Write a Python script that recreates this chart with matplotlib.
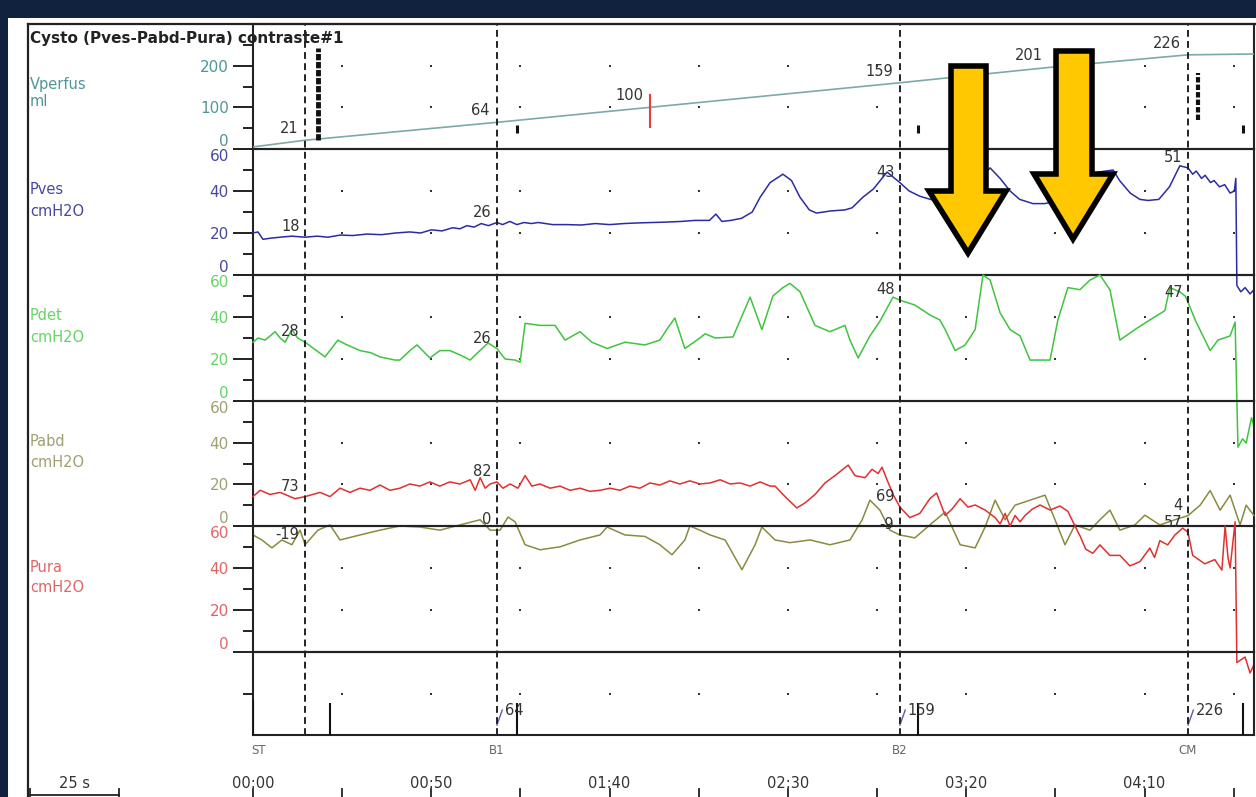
import numpy as np
import matplotlib
matplotlib.use('Agg')
import matplotlib.pyplot as plt
from matplotlib.patches import Rectangle, Polygon
from matplotlib.lines import Line2D
from matplotlib.transforms import blended_transform_factory
from matplotlib.ticker import FixedLocator

# ---------------- data ----------------
T_MAX = 280.7
cursor_t = [14.6, 68.4, 181.4, 262.2]
cursor_names = ['ST', 'B1', 'B2', 'CM']
name_t = [1.5, 68.4, 181.4, 262.2]

vol_t = [0, 14.6, 68.4, 111.3, 181.4, 223.5, 262.2, 280.7]
vol_v = [5, 21, 64, 100, 159, 196, 226, 228]
vol_label_t = [14.6, 68.4, 111.3, 181.4, 223.5, 262.2]
vol_labels = ['21', '64', '100', '159', '201', '226']

pves_pts = [(0, 20), (1.4, 20.5), (2.8, 17), (4.8, 17.5), (7.6, 18), (10.9, 18.5), (14.6, 18), (18, 18.5),
            (21, 18), (24.4, 19), (28, 18.8), (32, 19.5), (36, 19.2), (40, 20), (44, 20.5), (47, 20),
            (50, 21.5), (53, 21), (56, 22.5), (58, 22), (60, 23.5), (62, 22.8), (64, 24.5), (66, 23.5),
            (68.4, 25), (70, 24), (72, 25.5), (74, 24), (76, 25), (78, 24.5), (80, 25), (84, 24),
            (88, 24), (92, 23.8), (96, 24.5), (100, 24), (104, 24.5), (108, 24.8), (112, 25), (116, 25.2),
            (120, 25.5), (124, 26), (128, 26), (129.8, 29), (131.5, 25.5), (134, 26), (137, 27), (140, 30),
            (142.2, 37), (145, 44), (148.6, 48), (151, 45), (153.4, 37), (156, 31), (158, 29.5), (162, 30.5),
            (166, 31), (168, 32), (171, 37), (174, 41), (177.8, 49), (181.4, 44), (184, 40), (187, 37.5),
            (190, 36), (192.6, 35), (195, 33), (198, 35), (201, 40), (204, 46), (206.7, 51), (209.5, 46),
            (212.3, 40), (215, 36), (218.7, 34), (222, 34), (225, 35), (228, 38), (231, 43), (234, 47),
            (237, 49), (241.2, 50), (243, 45), (246, 39), (248.7, 36), (251, 35.5), (254, 36), (257, 42),
            (259.9, 52), (262.2, 51), (263.5, 48), (264.5, 49.5), (266, 46), (267, 47.5), (268.5, 44),
            (269.5, 45), (271, 42), (272.5, 43), (274, 39), (275.2, 40), (275.6, 46), (275.9, -5),
            (277, -8), (278.2, -6), (279.6, -9), (280.7, -7)]
pves_labels = ['18', '26', '43', '51']

pdet_pts = [(0, 28), (1.4, 30), (3.4, 29), (6.2, 33), (7.6, 30), (9.0, 28), (10.9, 34), (12.5, 30),
            (14.6, 28), (17, 25), (20.2, 21), (23.8, 29), (26, 27), (30, 24), (33, 23), (35.6, 21),
            (39.8, 19.5), (41.2, 19.5), (44, 24), (46, 26.7), (49.6, 20.5), (52.4, 24), (55.2, 24),
            (58, 22), (60.9, 19.5), (63, 23), (65.9, 27.6), (68.4, 25), (70.7, 20), (73.5, 19.5),
            (74.9, 18.5), (76.3, 37), (80.5, 36), (84.7, 36), (87.5, 29), (91.7, 33), (95, 28),
            (99.3, 25), (104.3, 28), (109.9, 26.7), (114.1, 29), (116, 34), (118.3, 39.5), (121.1, 25),
            (124.5, 29), (126.8, 32), (129.6, 30), (134.6, 30.5), (139.4, 49.5), (142.7, 34), (145.8, 50),
            (148.6, 54), (150.6, 56), (153.4, 52), (157.6, 36), (161.8, 33), (166.0, 36), (167.4, 29),
            (169.7, 20.5), (173.0, 31), (175.8, 38), (179.5, 49.5), (181.4, 48), (185.6, 45.7),
            (189.8, 41), (192.6, 38.6), (194.1, 34), (196.9, 24), (199.7, 26.7), (202.5, 34), (204.7, 60),
            (206.7, 57.6), (209.5, 42), (212.3, 34), (215.1, 31), (217.9, 19.5), (223.5, 19.5),
            (225.7, 38.6), (228.5, 54), (231.9, 53), (234.7, 57.6), (237.5, 60), (240.3, 53), (243.1, 29),
            (247.3, 34), (251.5, 38.6), (255.7, 43), (257.1, 54), (259.9, 52), (261.4, 50), (262.2, 47),
            (264.2, 38.6), (268.4, 24), (270.6, 29), (274.0, 31), (275.4, 37.6), (276.2, -22),
            (277.5, -18), (278.5, -20), (280, -8), (280.7, -12)]
pdet_labels = ['28', '26', '48', '47']

pabd_pts = [(0, -4.3), (2.5, -6.7), (5.3, -10.5), (8.1, -6.7), (10.9, -9), (13.2, -2), (14.6, -9),
            (18.2, -2), (21.6, 0.5), (24.4, -6.7), (30, -4.3), (35.6, -2), (41.2, 0), (46.8, -0.5),
            (52.4, -2), (58, 0.5), (63.7, 3), (66.5, -2), (69.3, -2), (71.5, 4.3), (73.5, 2), (76.3, -9),
            (80.5, -11.4), (86.1, -10), (91.7, -6.7), (97.3, -4.3), (99.3, -0.5), (104.3, -4.3),
            (109.9, -5), (114.1, -9), (117.5, -13.8), (121.1, -6.7), (122.5, 0), (125.3, -2),
            (128.2, -4.3), (132.4, -6.7), (137.1, -21), (140.8, -9), (142.7, -0.5), (146.4, -6.7),
            (150.6, -8), (156.2, -6.7), (161.8, -9), (167.4, -6.7), (170.8, 2.9), (173, 12.4),
            (175.8, 7.6), (178.6, -2), (181.4, -4.3), (185.6, -5.7), (189.8, 0.5), (194.1, 6.7),
            (198.3, -9), (202.5, -10.5), (205.3, -0.5), (208.1, 12.4), (210.9, 3), (213.7, 10),
            (217.9, 12.4), (222.1, 14.8), (224.9, 3), (227.7, -9), (230.5, 0.5), (234.7, -2), (237.5, 3),
            (240.3, 7.6), (243.1, -2), (247.3, 0.5), (250.1, 5.2), (254.3, 0.5), (258.5, 3), (262.2, 5),
            (265.6, 10), (268.4, 17), (271.2, 7.6), (274, 14.8), (276.8, 0.5), (278.5, 10), (280.7, 5)]
pabd_labels = ['-19', '0', '-9', '4']

pura_pts = [(0, 74), (2.0, 77), (4.8, 75), (7.6, 76), (11.8, 73), (14.6, 74), (18.8, 76), (21.6, 74),
            (24.4, 78), (27.2, 76), (30.0, 78), (32.8, 77), (35.6, 79.5), (38.4, 77), (41.2, 78), (44, 80),
            (46.8, 79), (49.6, 81), (52.4, 79), (55.2, 81), (58, 80), (60.9, 82), (62.3, 77), (63.7, 83),
            (65.1, 78), (66.5, 80), (68.4, 81), (70.1, 78), (72.1, 80), (74.3, 78), (76.3, 84), (78.2, 79),
            (80.5, 80), (83.3, 78), (86.1, 79), (88.9, 77), (91.7, 78), (94.5, 76.5), (97.3, 77),
            (100.1, 78), (102.9, 77), (105.7, 79), (108.5, 78), (111.3, 80.5), (114.1, 79.5),
            (116.9, 81.5), (119.7, 80), (122.5, 81.5), (125.3, 80), (128.2, 80.5), (131, 82), (133.8, 80),
            (136.6, 80.5), (139.4, 79), (142.2, 81), (145, 79), (146.4, 79), (149.2, 74), (152.5, 68.6),
            (154.8, 71), (157.6, 75), (160.4, 80.5), (163.2, 84), (166.9, 89), (168.8, 84), (171.6, 83),
            (173.6, 87), (175.3, 85), (176.4, 88), (177.8, 82), (179.5, 75), (181.4, 69), (184.2, 64),
            (187, 66), (189.8, 73), (191.7, 75.7), (194.1, 65), (196, 68), (198.3, 73), (200.5, 69),
            (202.5, 70), (205.3, 67.6), (208.1, 64), (209.5, 61), (210.9, 66), (212.3, 60), (213.7, 65),
            (215.1, 62), (216.5, 65), (218.5, 68), (220.7, 70), (223.5, 67.6), (226.3, 69.5), (228.5, 67),
            (230.5, 60), (232, 55), (233.5, 49), (235.5, 47), (237.5, 51), (240.3, 46), (243.1, 46),
            (245.9, 41), (248.7, 43), (251.5, 49.5), (252.8, 45), (254.3, 53), (256.5, 51), (258.5, 55.7),
            (260.7, 59), (262.2, 57), (263.5, 46), (266.9, 42), (269.7, 44), (271.7, 39), (272.6, 60),
            (273.4, 45), (274, 40), (275.4, 62), (275.9, -5), (278.2, -2.4), (279.6, -10), (280.7, -6)]
pura_labels = ['73', '82', '69', '57']

ev_t = [0, 21.6, 74.0, 186.4, 277.6]
ev_h = [0.42, 0.39, 0.39, 0.39, 0.39]
ev_label_t = [68.4, 181.4, 262.2]
ev_labels = ['64', '159', '226']

time_ticks = [0, 25, 50, 75, 100, 125, 150, 175, 200, 225, 250, 275]
time_label_t = [0, 50, 100, 150, 200, 250]
time_labels = ['00:00', '00:50', '01:40', '02:30', '03:20', '04:10']

# ---------------- layout helpers ----------------
W, H = 1256, 797
PX_PER_S = 1001 / T_MAX
fig = plt.figure(figsize=(W / 100, H / 100), dpi=100, facecolor='#10223d')


def fx(x):
    return x / W


def fy(y):
    return 1 - y / H


fig.add_artist(Rectangle((fx(8), 0), 1 - fx(8), fy(18), transform=fig.transFigure,
                         facecolor='white', edgecolor='none', zorder=-10))
fig.add_artist(Line2D([fx(28), fx(28)], [0, fy(24)], color='#222', lw=1.6, zorder=1))
fig.add_artist(Line2D([fx(28), 1], [fy(24), fy(24)], color='#222', lw=1.6, zorder=1))

L, AW = 253 / W, 1001 / W
panel_px = {'vol': (24, 149), 'pves': (149, 275), 'pdet': (275, 401),
            'pabd': (401, 526), 'pura': (526, 652), 'ev': (652, 735)}
colors = {'vol': '#7ea9a9', 'pves': '#2b2ba6', 'pdet': '#3fc43f', 'pabd': '#8a8a40', 'pura': '#e03030'}
tcolors = {'vol': '#4f9696', 'pves': '#4848a0', 'pdet': '#66d466', 'pabd': '#a0a070', 'pura': '#e06666'}
names = {'vol': ('Vperfus', 'ml'), 'pves': ('Pves', 'cmH2O'), 'pdet': ('Pdet', 'cmH2O'),
         'pabd': ('Pabd', 'cmH2O'), 'pura': ('Pura', 'cmH2O')}

axes = {}
for k, (top, bot) in panel_px.items():
    ax = fig.add_axes([L, fy(bot), AW, (bot - top) / H])
    ax.patch.set_visible(False)
    ax.set_xlim(0, T_MAX)
    ax.tick_params(axis='x', bottom=False, labelbottom=False)
    for s in ax.spines.values():
        s.set_color('#222')
        s.set_linewidth(1.5)
    axes[k] = ax

grid_t = np.array(time_ticks[1:])
for k in ['pves', 'pdet', 'pabd', 'pura']:
    ax = axes[k]
    ax.set_ylim(0, 60)
    ax.yaxis.set_major_locator(FixedLocator([0, 20, 40, 60]))
    ax.yaxis.set_minor_locator(FixedLocator([10, 30, 50]))
    gx, gy = np.meshgrid(grid_t, [20, 40])
    ax.scatter(gx.ravel(), gy.ravel(), s=4, marker='s', color='#333', lw=0, zorder=2)
ax = axes['vol']
ax.set_ylim(0, 300)
ax.yaxis.set_major_locator(FixedLocator([0, 100, 200]))
ax.yaxis.set_minor_locator(FixedLocator([50, 150, 250]))
gx, gy = np.meshgrid(grid_t, [100, 200])
ax.scatter(gx.ravel(), gy.ravel(), s=4, marker='s', color='#333', lw=0, zorder=2)
ax = axes['ev']
ax.set_ylim(0, 1)
ax.set_yticks([])
ax.yaxis.set_minor_locator(FixedLocator([0.5]))
ax.scatter(grid_t, np.full(len(grid_t), 0.5), s=4, marker='s', color='#333', lw=0, zorder=2)

for k in names:
    ax = axes[k]
    ax.tick_params(axis='y', which='major', length=14.4, width=1.4, color='#222', pad=3,
                   labelsize=11, labelcolor=tcolors[k])
    ax.tick_params(axis='y', which='minor', length=7, width=1.4, color='#222')
    labs = ax.get_yticklabels()
    labs[0].set_va('bottom')
    if k != 'vol':
        labs[-1].set_va('top')
axes['ev'].tick_params(axis='y', which='minor', length=7, width=1.4, color='#222')

# channel names
name_y = {'vol': (85, 102), 'pves': (190, 212), 'pdet': (315, 337), 'pabd': (442, 463), 'pura': (567, 588)}
for k, (n1, n2) in names.items():
    fig.text(fx(30), fy(name_y[k][0]), n1, color=tcolors[k], fontsize=10.5, va='center', ha='left')
    fig.text(fx(30), fy(name_y[k][1]), n2, color=tcolors[k], fontsize=10.5, va='center', ha='left')
fig.text(fx(30), fy(38), 'Cysto (Pves-Pabd-Pura) contraste#1', fontsize=11, fontweight='bold',
         color='#222', va='center', ha='left')

# traces
series = {'pves': (pves_pts, pves_labels), 'pdet': (pdet_pts, pdet_labels),
          'pabd': (pabd_pts, pabd_labels), 'pura': (pura_pts, pura_labels)}
axes['vol'].plot(vol_t, vol_v, color=colors['vol'], lw=1.2, zorder=3)
for tt, lab in zip(vol_label_t, vol_labels):
    axes['vol'].annotate(lab, (tt, np.interp(tt, vol_t, vol_v)), xytext=(-5, 3),
                         textcoords='offset points', ha='right', va='bottom', fontsize=10.5, color='#333')
for k, (pts, labs) in series.items():
    t, v = zip(*pts)
    axes[k].plot(t, v, color=colors[k], lw=1.1, clip_on=False, zorder=3)
    for tt, lab in zip(cursor_t, labs):
        axes[k].annotate(lab, (tt, np.interp(tt, t, v)), xytext=(-4, 2), textcoords='offset points',
                         ha='right', va='bottom', fontsize=10.5, color='#333', zorder=5,
                         annotation_clip=False)

# volume panel markers
axv = axes['vol']
axv.plot([18.2, 18.2], [22, 242], color='#111', lw=3.5, ls=(0, (1.3, 0.35)), zorder=4)
axv.plot([265, 265], [70, 182], color='#111', lw=3, ls=(0, (1.3, 0.5)), zorder=4)
axv.plot([111.3, 111.3], [53, 130], color='#e04040', lw=1.5, zorder=4)
axv.vlines(ev_t[2:], 38, 58, color='#111', lw=2.2, zorder=4)

# event channel
axe = axes['ev']
axe.vlines(ev_t, 0, ev_h, color='#111', lw=1.5, zorder=3)
for tt, lab in zip(ev_label_t, ev_labels):
    axe.text(tt + 2.2, 0.3, lab, fontsize=10.5, color='#333', va='center', ha='left')
    axe.plot([tt, tt + 1.5], [0.12, 0.3], color='#5a5aaa', lw=1)

btrans = blended_transform_factory(axe.transData, fig.transFigure)
for tt in cursor_t:
    fig.add_artist(Line2D([tt, tt], [fy(735), fy(24)], transform=btrans, color='#222', lw=1.4,
                          ls=(0, (3.5, 2.2)), zorder=2))
for tt, lab in zip(name_t, cursor_names):
    fig.text(tt, fy(750), lab, transform=btrans, fontsize=8.5, color='#666', ha='center', va='center')

# time axis
for tt in time_ticks:
    fig.add_artist(Line2D([tt, tt], [fy(797), fy(789)], transform=btrans, color='#222', lw=1.3))
for tt, lab in zip(time_label_t, time_labels):
    fig.text(tt, fy(783), lab, transform=btrans, fontsize=10.5, color='#333', ha='center', va='center')

# 25 s scale bar
x0, x1 = 30, 30 + 25 * PX_PER_S
fig.add_artist(Line2D([fx(x0), fx(x1)], [fy(795), fy(795)], color='#222', lw=1.3))
fig.add_artist(Line2D([fx(x0), fx(x0)], [fy(789), fy(797)], color='#222', lw=1.3))
fig.add_artist(Line2D([fx(x1), fx(x1)], [fy(789), fy(797)], color='#222', lw=1.3))
fig.text(fx((x0 + x1) / 2), fy(784), '25 s', fontsize=10.5, color='#333', ha='center', va='center')

# yellow highlight arrows (pixel geometry)
arrows = [[(951, 66), (986, 66), (986, 191), (1006, 191), (968, 253), (929, 191), (951, 191)],
          [(1056, 51), (1092, 51), (1092, 174), (1113, 174), (1073, 239), (1034, 174), (1056, 174)]]
for poly in arrows:
    fig.add_artist(Polygon([(fx(a), fy(b)) for a, b in poly], closed=True, transform=fig.transFigure,
                           facecolor='#ffc800', edgecolor='black', lw=4, joinstyle='miter', zorder=10))

fig.savefig('out.png', dpi=100, facecolor=fig.get_facecolor())
